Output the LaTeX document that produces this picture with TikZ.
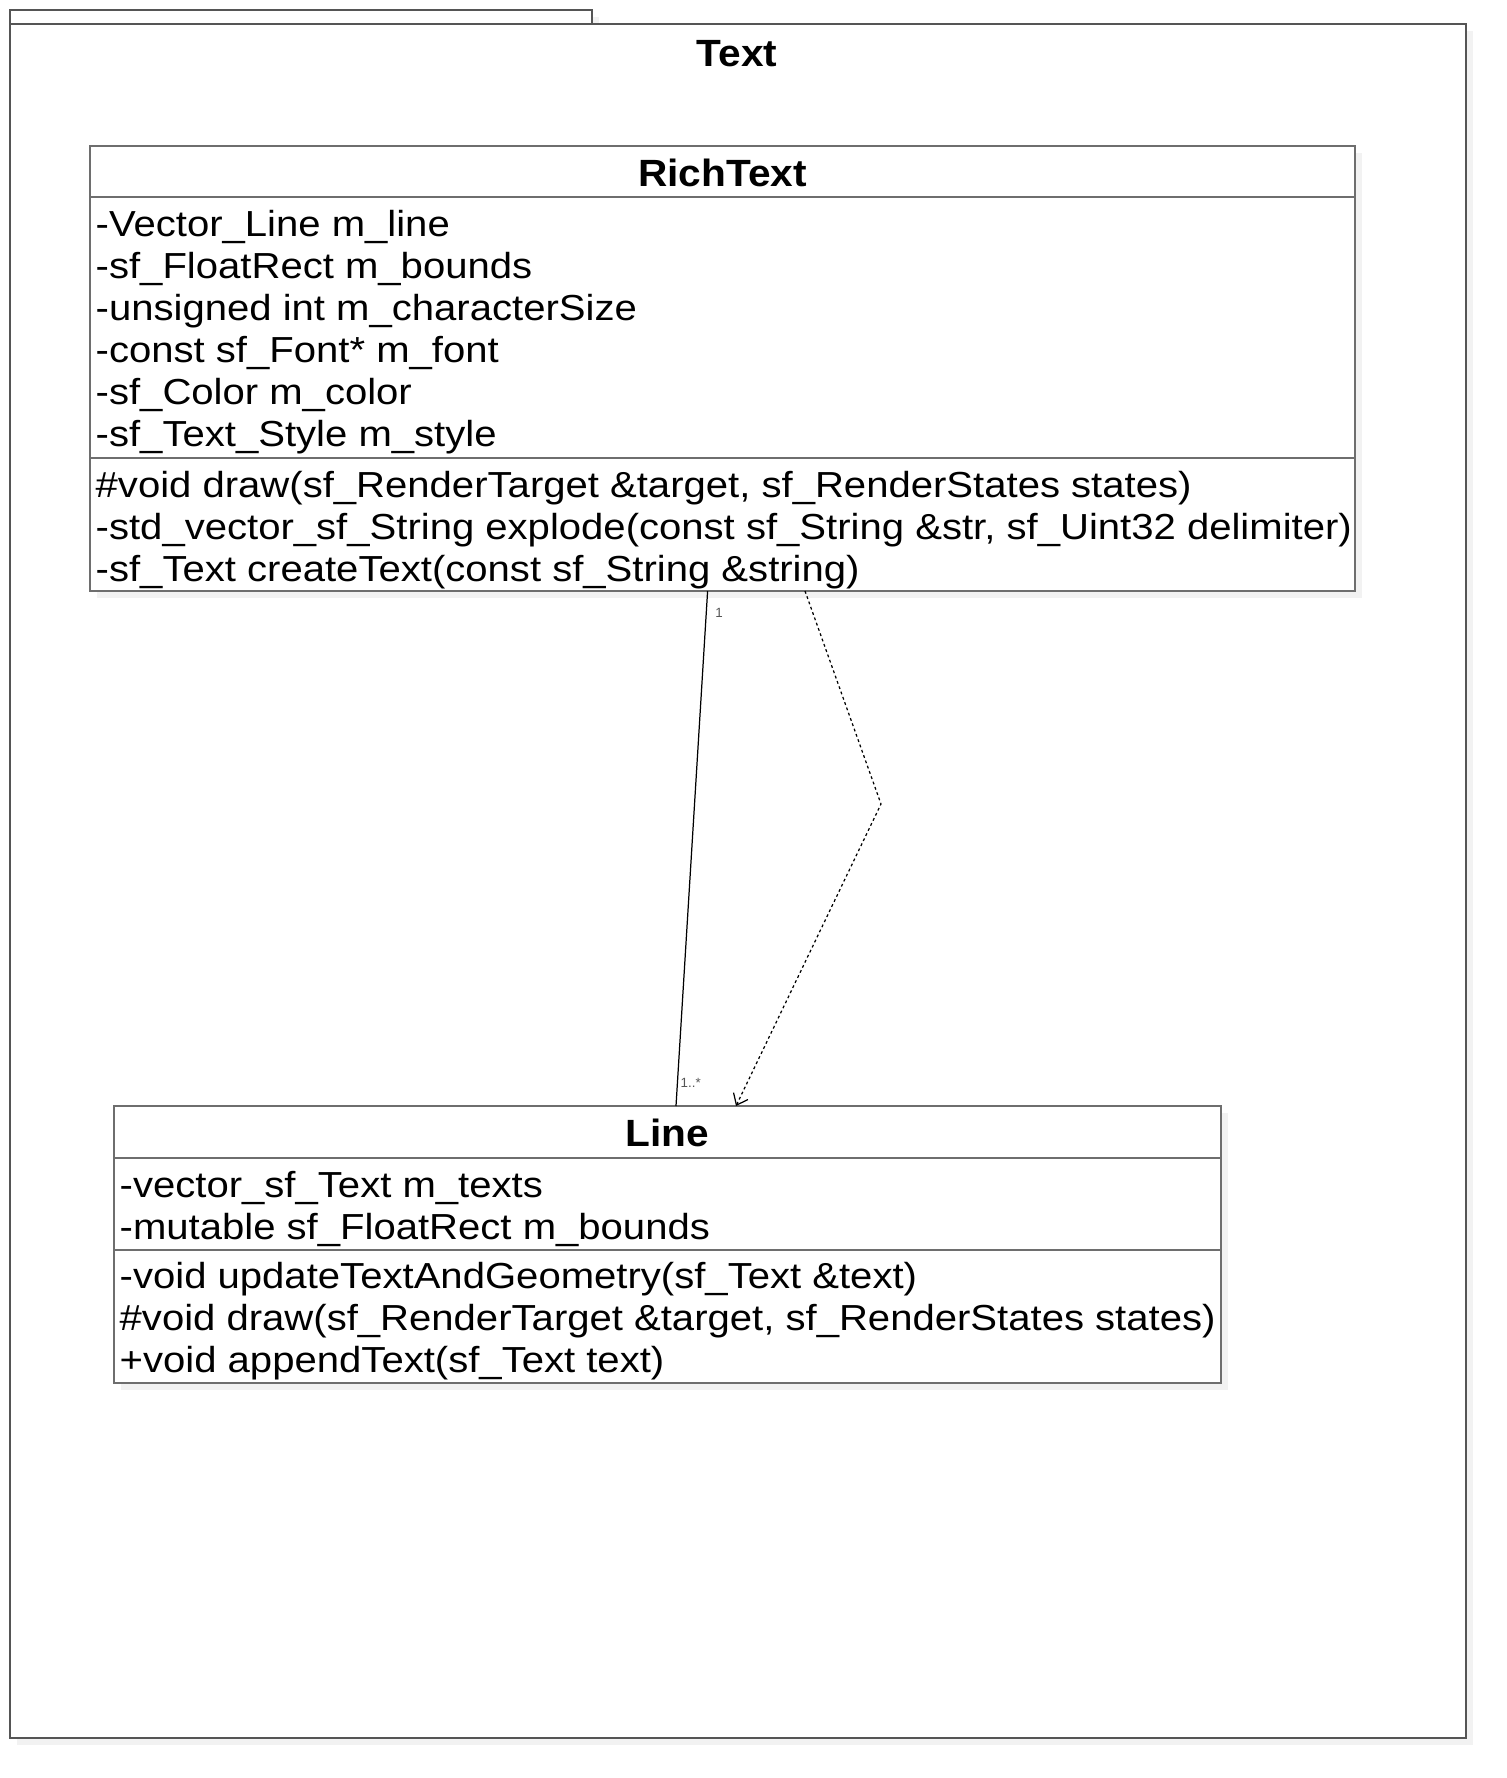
\documentclass[tikz,border=0pt]{standalone}
\usepackage{fontspec}
\setmainfont{Liberation Sans}
\newfontfamily\umlfont{Liberation Sans}[FakeStretch=1.107]
\newfontfamily\umlheadfont{Liberation Sans}[FakeStretch=1.07]
\usetikzlibrary{arrows.meta,shadows}

\definecolor{umlline}{HTML}{6E6E6E}
\definecolor{umlframe}{HTML}{555555}
\definecolor{umlshade}{HTML}{F2F2F2}

\tikzset{
  umlshadow/.style={general shadow={fill=umlshade, shadow xshift=0.07cm, shadow yshift=-0.07cm}},
  classbox/.style={draw=umlline, line width=0.6pt, fill=white, umlshadow, inner sep=0pt, outer sep=0pt},
  classname/.style={font=\umlheadfont\fontsize{10.8}{13}\selectfont\bfseries, inner sep=0pt, anchor=base},
  member/.style={font=\umlfont\fontsize{10.3}{12}\selectfont, inner sep=0pt, anchor=base west},
  mult/.style={font=\fontsize{3.8}{4}\selectfont, text=umlframe, inner sep=0pt},
  assoc/.style={draw=black, line width=0.35pt},
  dep/.style={draw=black, line width=0.35pt, dash pattern=on 0.8pt off 0.8pt, -{Straight Barb[length=0.1cm, width=0.16cm]}}
}

\begin{document}
\begin{tikzpicture}[x=1cm, y=-1cm]
    \useasboundingbox (0,0) rectangle (15.06,17.78);
    % Package tab and frame
    \draw[draw=umlframe, line width=0.6pt, fill=white, umlshadow] (0.10,0.24) |- (5.92,0.10) -- (5.92,0.24);
    \node[draw=umlframe, line width=0.6pt, fill=white, umlshadow, minimum width=14.56cm, minimum height=17.14cm, inner sep=0pt, outer sep=0pt] (pkg) at (7.38,8.81) {};
    \node[classname] (pkgtitle) at (7.37,0.66) {Text};

    % Class RichText
    \node[classbox, minimum width=12.65cm, minimum height=4.45cm] (richtext) at (7.225,3.685) {};
    \draw[umlline, line width=0.6pt] (richtext.west |- 0,1.97) -- (richtext.east |- 0,1.97);
    \draw[umlline, line width=0.6pt] (richtext.west |- 0,4.58) -- (richtext.east |- 0,4.58);
    \node[classname] (richtextname) at (7.225,1.86) {RichText};
    \foreach \t [count=\i] in {-Vector\_Line m\_line, -sf\_FloatRect m\_bounds,
        -unsigned int m\_characterSize, -const sf\_Font* m\_font,
        -sf\_Color m\_color, -sf\_Text\_Style m\_style}
        \node[member] (rtattr\i) at (0.95,{2.36+0.42*(\i-1)}) {\t};
    \foreach \t [count=\i] in {{\#void draw(sf\_RenderTarget \&target, sf\_RenderStates states)},
        {-std\_vector\_sf\_String explode(const sf\_String \&str, sf\_Uint32 delimiter)},
        {-sf\_Text createText(const sf\_String \&string)}}
        \node[member] (rtop\i) at (0.95,{4.97+0.42*(\i-1)}) {\t};

    % Class Line
    \node[classbox, minimum width=11.07cm, minimum height=2.77cm] (line) at (6.675,12.445) {};
    \draw[umlline, line width=0.6pt] (line.west |- 0,11.58) -- (line.east |- 0,11.58);
    \draw[umlline, line width=0.6pt] (line.west |- 0,12.50) -- (line.east |- 0,12.50);
    \node[classname] (linename) at (6.675,11.46) {Line};
    \foreach \t [count=\i] in {-vector\_sf\_Text m\_texts, -mutable sf\_FloatRect m\_bounds}
        \node[member] (lnattr\i) at (1.19,{11.97+0.42*(\i-1)}) {\t};
    \foreach \t [count=\i] in {{-void updateTextAndGeometry(sf\_Text \&text)},
        {\#void draw(sf\_RenderTarget \&target, sf\_RenderStates states)},
        {+void appendText(sf\_Text text)}}
        \node[member] (lnop\i) at (1.19,{12.88+0.42*(\i-1)}) {\t};

    % Association RichText -- Line
    \coordinate (rtassoc) at (7.076,5.91);
    \coordinate (lnassoc) at (6.76,11.06);
    \draw[assoc] (rtassoc) -- (lnassoc);
    \node[mult] (multtop) at (7.19,6.13) {1};
    \node[mult, anchor=west] (multbottom) at (6.80,10.83) {1..*};

    % Dependency RichText -> Line
    \coordinate (rtdep) at (8.05,5.91);
    \coordinate (depbend) at (8.81,8.04);
    \coordinate (lndep) at (7.36,11.06);
    \draw[dep] (rtdep) -- (depbend) -- (lndep);
\end{tikzpicture}
\end{document}
